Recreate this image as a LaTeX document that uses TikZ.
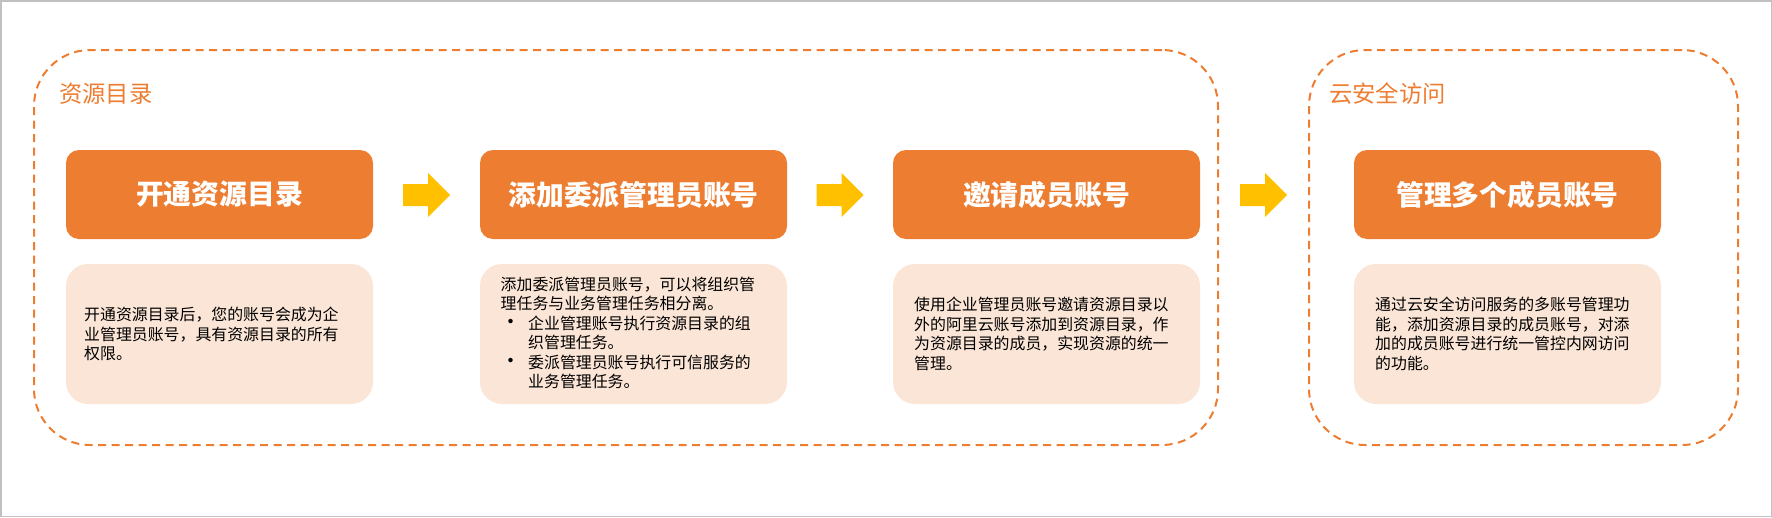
\documentclass[tikz,border=0pt]{standalone}
\usepackage{fontspec}
\setmainfont{Noto Sans CJK SC}
\usetikzlibrary{calc}
\definecolor{orangeM}{HTML}{ED7D31}
\definecolor{peach}{HTML}{FBE5D6}
\definecolor{yellowA}{HTML}{FFC000}
\definecolor{frameG}{HTML}{C0C0C0}
\tikzset{
  hbox/.style={fill=orangeM, rounded corners=13pt, minimum width=307pt, minimum height=89pt,
    inner sep=0pt, outer sep=0pt, text=white, font=\fontsize{27.8}{30}\selectfont\bfseries},
  dbox/.style={fill=peach, rounded corners=22pt, minimum width=307pt, minimum height=140pt,
    inner sep=0pt, outer sep=0pt},
  dtext/.style={anchor=west, inner sep=0pt, align=left, text=black,
    font=\fontsize{15.9}{19.5}\selectfont},
  grp/.style={draw=orangeM, line width=2pt, dash pattern=on 8pt off 5.5pt, rounded corners=56pt,
    inner sep=0pt, outer sep=0pt},
  gtitle/.style={anchor=west, inner sep=0pt, text=orangeM, font=\fontsize{23.3}{25}\selectfont},
  blockarrow/.pic={
    \fill[yellowA] (-23.5,-11) -- (1.5,-11) -- (1.5,-22) -- (23.5,0) -- (1.5,22) -- (1.5,11) -- (-23.5,11) -- cycle;
  }
}
\newcommand{\bul}{\makebox[27.5pt][l]{\fontsize{21}{19.5}\selectfont •}}
\newcommand{\bulind}{\hspace*{27.5pt}}
\begin{document}
\begin{tikzpicture}[x=1pt,y=-1pt]
\useasboundingbox (0,0) rectangle (1772,517);
\draw[frameG, line width=1.5pt] (0.75,0.75) rectangle (1771.25,516.25);

% groups
\node[grp, minimum width=1184pt, minimum height=395pt] (g1) at (626,247.5) {};
\node[grp, minimum width=429pt, minimum height=395pt] (g2) at (1523.5,247.5) {};
\node[gtitle] (t1) at (59,94) {资源目录};
\node[gtitle] (t2) at (1329,94) {云安全访问};

% header boxes
\node[hbox] (h1) at (219.5,194.5) {开通资源目录};
\node[hbox] (h2) at (633.5,194.5) {添加委派管理员账号};
\node[hbox] (h3) at (1046.5,194.5) {邀请成员账号};
\node[hbox] (h4) at (1507.5,194.5) {管理多个成员账号};

% description boxes
\node[dbox] (d1) at (219.5,334) {};
\node[dbox] (d2) at (633.5,334) {};
\node[dbox] (d3) at (1046.5,334) {};
\node[dbox] (d4) at (1507.5,334) {};

\node[dtext] (d1t) at ([xshift=18pt]d1.west) {开通资源目录后，您的账号会成为企\\业管理员账号，具有资源目录的所有\\权限。};
\node[dtext] (d2t) at ([xshift=20.5pt,yshift=1pt]d2.west) {添加委派管理员账号，可以将组织管\\理任务与业务管理任务相分离。\\\bul 企业管理账号执行资源目录的组\\\bulind 织管理任务。\\\bul 委派管理员账号执行可信服务的\\\bulind 业务管理任务。};
\node[dtext] (d3t) at ([xshift=21pt]d3.west) {使用企业管理员账号邀请资源目录以\\外的阿里云账号添加到资源目录，作\\为资源目录的成员，实现资源的统一\\管理。};
\node[dtext] (d4t) at ([xshift=21pt]d4.west) {通过云安全访问服务的多账号管理功\\能，添加资源目录的成员账号，对添\\加的成员账号进行统一管控内网访问\\的功能。};

% arrows
\coordinate (a1) at ($(h1.east)!0.5!(h2.west)$);
\coordinate (a2) at ($(h2.east)!0.5!(h3.west)$);
\coordinate (a3) at ($(g1.east)!0.5!(g2.west)$);
\pic at ([yshift=-0.5pt]a1) {blockarrow};
\pic at ([yshift=-0.5pt]a2) {blockarrow};
\pic at ([yshift=-0.5pt]a3 |- h3.center) {blockarrow};
\end{tikzpicture}
\end{document}
